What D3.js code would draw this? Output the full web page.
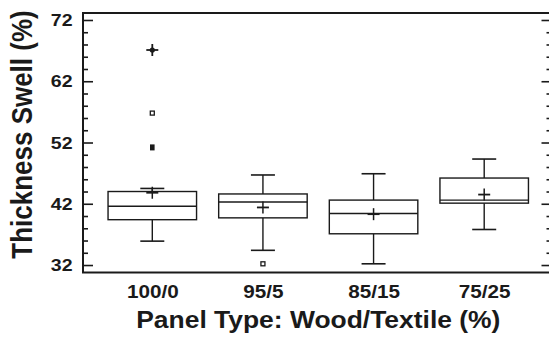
<!DOCTYPE html>
<html>
<head>
<meta charset="utf-8">
<script src="https://cdn.jsdelivr.net/npm/d3@7"></script>
<style>
  html, body { margin: 0; padding: 0; background: #fff; }
  svg { display: block; }
  text { font-family: "Liberation Sans", Arial, Helvetica, sans-serif; font-weight: bold; fill: #1a1a1a; }
</style>
</head>
<body>
<svg id="chart" width="549" height="339"></svg>
<script>
// ---- data ----
const categories  = ["100/0", "95/5", "85/15", "75/25"];
const whiskerLow  = [35.9, 34.4, 32.2, 37.8];
const q1          = [39.4, 39.7, 37.1, 42.1];
const median      = [41.6, 42.3, 40.4, 42.6];
const q3          = [44.0, 43.6, 42.6, 46.2];
const whiskerHigh = [44.5, 46.7, 46.9, 49.3];
const means       = [43.8, 41.4, 40.3, 43.5];
const outlierCats   = ["100/0", "100/0", "100/0", "95/5"];
const outlierValues = [67.1, 56.8, 51.2, 32.2];
const outlierTypes  = ["plus", "hollow", "filled", "hollow"];
const yMajorTicks = [32, 42, 52, 62, 72];
const yMinorTicks = [34, 36, 38, 40, 44, 46, 48, 50, 54, 56, 58, 60, 64, 66, 68, 70];
const xTitle = "Panel Type: Wood/Textile (%)";
const yTitle = "Thickness Swell (%)";

// ---- layout ----
const svg = d3.select("#chart");
const frame = { left: 83, right: 551.5, top: 13, bottom: 272.5 };
const ink = "#1a1a1a";
const sx = 1.15; // horizontal text stretch seen in the reference

const y = d3.scaleLinear().domain([30.78, 73.14]).range([frame.bottom, frame.top]);
const x = d3.scalePoint().domain(categories).range([152.3, 484.2]);
const step = x.step();
const boxW = step * 0.8;
const capW = 24;

// clip for right axis that runs off the image
svg.append("defs").append("clipPath").attr("id", "clip")
  .append("rect").attr("x", 0).attr("y", 0).attr("width", 549).attr("height", 339);

const g = svg.append("g").attr("clip-path", "url(#clip)");

// Frame
g.append("rect")
  .attr("x", frame.left).attr("y", frame.top)
  .attr("width", frame.right - frame.left).attr("height", frame.bottom - frame.top)
  .attr("fill", "none").attr("stroke", ink).attr("stroke-width", 2);

// Left axis (ticks inward)
const leftAxis = d3.axisRight(y).tickValues(yMajorTicks).tickSize(10).tickFormat("");
const leftMinor = d3.axisRight(y).tickValues(yMinorTicks).tickSize(5).tickFormat("");
[leftAxis, leftMinor].forEach(a => {
  const ag = g.append("g").attr("transform", `translate(${frame.left},0)`).call(a);
  ag.select(".domain").remove();
  ag.selectAll("line").attr("stroke", ink).attr("stroke-width", 1.6);
});
// Right axis (ticks inward)
const rightAxis = d3.axisLeft(y).tickValues(yMajorTicks).tickSize(10).tickFormat("");
const rightMinor = d3.axisLeft(y).tickValues(yMinorTicks).tickSize(5).tickFormat("");
[rightAxis, rightMinor].forEach(a => {
  const ag = g.append("g").attr("transform", `translate(${frame.right},0)`).call(a);
  ag.select(".domain").remove();
  ag.selectAll("line").attr("stroke", ink).attr("stroke-width", 1.6);
});

// Y tick labels
svg.append("g").selectAll("text").data(yMajorTicks).join("text")
  .attr("transform", d => `translate(72.5,${y(d) + 6.2}) scale(${sx},1)`)
  .attr("text-anchor", "end")
  .attr("font-size", 17)
  .text(d => d);

// X tick labels
svg.append("g").selectAll("text").data(categories).join("text")
  .attr("transform", d => `translate(${x(d) + 0.5},298.3) scale(${sx},1)`)
  .attr("text-anchor", "middle")
  .attr("font-size", 18)
  .text(d => d);

// Axis titles
svg.append("text")
  .attr("transform", `translate(318.3,328.3) scale(${sx},1)`)
  .attr("text-anchor", "middle")
  .attr("font-size", 23)
  .text(xTitle);
svg.append("text")
  .attr("transform", `translate(31.5,134.5) scale(${sx},1) rotate(-90)`)
  .attr("text-anchor", "middle")
  .attr("font-size", 26)
  .text(yTitle);

// Boxes
const boxes = svg.append("g").attr("stroke", ink).attr("fill", "none");
categories.forEach((c, i) => {
  const cx = x(c);
  const bg = boxes.append("g");
  // whiskers
  bg.append("line").attr("x1", cx).attr("x2", cx)
    .attr("y1", y(q3[i])).attr("y2", y(whiskerHigh[i])).attr("stroke-width", 1.4);
  bg.append("line").attr("x1", cx).attr("x2", cx)
    .attr("y1", y(q1[i])).attr("y2", y(whiskerLow[i])).attr("stroke-width", 1.4);
  bg.append("line").attr("x1", cx - capW / 2).attr("x2", cx + capW / 2)
    .attr("y1", y(whiskerHigh[i])).attr("y2", y(whiskerHigh[i])).attr("stroke-width", 1.6);
  bg.append("line").attr("x1", cx - capW / 2).attr("x2", cx + capW / 2)
    .attr("y1", y(whiskerLow[i])).attr("y2", y(whiskerLow[i])).attr("stroke-width", 1.6);
  // box
  bg.append("rect")
    .attr("x", cx - boxW / 2).attr("width", boxW)
    .attr("y", y(q3[i])).attr("height", y(q1[i]) - y(q3[i]))
    .attr("fill", "#fff").attr("stroke-width", 1.4);
  // median
  bg.append("line").attr("x1", cx - boxW / 2).attr("x2", cx + boxW / 2)
    .attr("y1", y(median[i])).attr("y2", y(median[i])).attr("stroke-width", 1.4);
  // mean "+"
  const my = y(means[i]);
  bg.append("line").attr("x1", cx - 6).attr("x2", cx + 6).attr("y1", my).attr("y2", my).attr("stroke-width", 1.8);
  bg.append("line").attr("x1", cx).attr("x2", cx).attr("y1", my - 6).attr("y2", my + 6).attr("stroke-width", 1.5);
});

// Outliers
const og = svg.append("g");
outlierValues.forEach((v, i) => {
  const cx = x(outlierCats[i]);
  const cy = y(v);
  const t = outlierTypes[i];
  if (t === "plus") {
    og.append("line").attr("x1", cx - 6).attr("x2", cx + 6).attr("y1", cy).attr("y2", cy)
      .attr("stroke", ink).attr("stroke-width", 1.8);
    og.append("line").attr("x1", cx).attr("x2", cx).attr("y1", cy - 6).attr("y2", cy + 6)
      .attr("stroke", ink).attr("stroke-width", 1.8);
    og.append("circle").attr("cx", cx).attr("cy", cy).attr("r", 2.6).attr("fill", ink);
  } else if (t === "hollow") {
    og.append("rect").attr("x", cx - 2).attr("y", cy - 2).attr("width", 4).attr("height", 4)
      .attr("fill", "#fff").attr("stroke", ink).attr("stroke-width", 1.3);
  } else {
    og.append("rect").attr("x", cx - 2.3).attr("y", cy - 3).attr("width", 4.6).attr("height", 6)
      .attr("fill", ink);
  }
});
</script>
</body>
</html>
